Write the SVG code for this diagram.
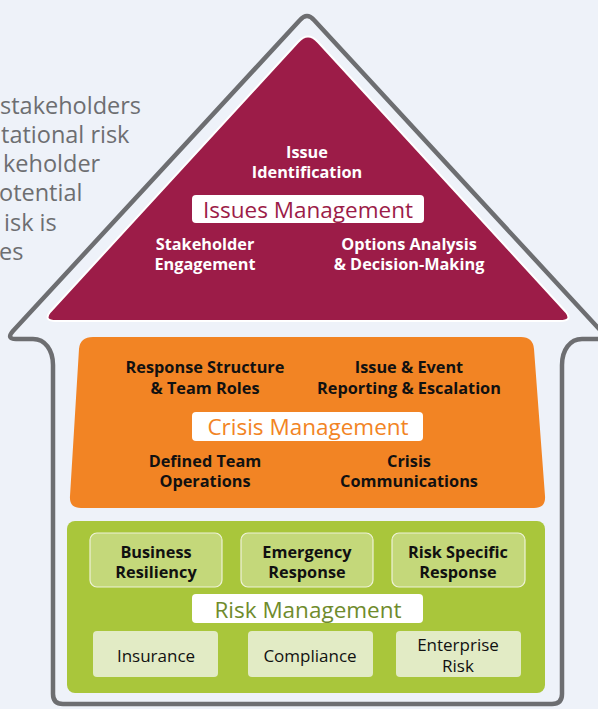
<svg xmlns="http://www.w3.org/2000/svg" width="598" height="709" viewBox="0 0 598 709">
<style>
.bg{fill:#eef2f9}
.side{font-family:"Open Sans",Lato,sans-serif;font-size:23.5px;fill:#6d6e71}
.wb{font-family:"Open Sans",Lato,sans-serif;font-size:16.3px;font-weight:bold;fill:#ffffff;text-anchor:middle}
.kb{font-family:"Open Sans",Lato,sans-serif;font-size:16.3px;font-weight:bold;fill:#111111;text-anchor:middle}
.kr{font-family:"Open Sans",Lato,sans-serif;font-size:17px;fill:#111111;text-anchor:middle}
.title{font-family:"Open Sans",Lato,sans-serif;font-size:22.5px;text-anchor:middle}
.lab{fill:#ffffff}
.boxA{fill:#c4d87a;stroke:#eef2d8;stroke-width:1.2}
.boxB{fill:#e2ebc5}
</style>
<rect class="bg" x="0" y="0" width="598" height="709"/>
<g id="side-text">
<text class="side" x="0" y="114">stakeholders</text>
<text class="side" x="1" y="143">tational risk</text>
<text class="side" x="3" y="172">keholder</text>
<text class="side" x="-1" y="201">otential</text>
<text class="side" x="4" y="231">isk is</text>
<text class="side" x="-1" y="260">es</text>
</g>
<g id="house-outline">
<path d="M53 694 L53 365 C53 350 45 339 33 339 L16 339 Q6 339 13 331 L300 20 Q307 12 314 20 L601 331 Q608 339 598 339 L582 339 C570 339 562 350 562 365 L562 694 Q562 704 552 704 L63 704 Q53 704 53 694 Z" fill="none" stroke="#6d6e71" stroke-width="4.5" stroke-linejoin="round"/>
</g>
<g id="issues-management">
<path d="M56 321 L560 321 Q573 321 566 312 L318 42 Q308 31 298 42 L50 312 Q43 321 56 321 Z" fill="#9c1c48" stroke="#ffffff" stroke-width="2"/>
<text class="wb" x="307" y="158">Issue</text>
<text class="wb" x="307" y="178">Identification</text>
<rect class="lab" x="192" y="195" width="232" height="28" rx="4"/>
<text class="title" x="308" y="218" fill="#9c1c48">Issues Management</text>
<text class="wb" x="205" y="250">Stakeholder</text>
<text class="wb" x="205" y="270">Engagement</text>
<text class="wb" x="409" y="250">Options Analysis</text>
<text class="wb" x="409" y="270">&amp; Decision-Making</text>
</g>
<g id="crisis-management">
<path d="M93 337 L521 337 Q533 337 534 349 L545 496 Q546 508 534 508 L81 508 Q69 508 70 496 L79 349 Q80 337 93 337 Z" fill="#f28424"/>
<text class="kb" x="205" y="373">Response Structure</text>
<text class="kb" x="205" y="394">&amp; Team Roles</text>
<text class="kb" x="409" y="373">Issue &amp; Event</text>
<text class="kb" x="409" y="394">Reporting &amp; Escalation</text>
<rect class="lab" x="192" y="412" width="231" height="29" rx="4"/>
<text class="title" x="308" y="435" fill="#f28424">Crisis Management</text>
<text class="kb" x="205" y="467">Defined Team</text>
<text class="kb" x="205" y="487">Operations</text>
<text class="kb" x="409" y="467">Crisis</text>
<text class="kb" x="409" y="487">Communications</text>
</g>
<g id="risk-management">
<rect x="67" y="521" width="478" height="172" rx="8" fill="#a9c63b"/>
<g id="business-resiliency">
<rect class="boxA" x="90" y="533" width="132" height="54" rx="7"/>
<text class="kb" x="156" y="558">Business</text>
<text class="kb" x="156" y="578">Resiliency</text>
</g>
<g id="emergency-response">
<rect class="boxA" x="241" y="533" width="132" height="54" rx="7"/>
<text class="kb" x="307" y="558">Emergency</text>
<text class="kb" x="307" y="578">Response</text>
</g>
<g id="risk-specific-response">
<rect class="boxA" x="392" y="533" width="133" height="54" rx="7"/>
<text class="kb" x="458" y="558">Risk Specific</text>
<text class="kb" x="458" y="578">Response</text>
</g>
<rect class="lab" x="192" y="594" width="231" height="29" rx="4"/>
<text class="title" x="308" y="618" fill="#6f8b2c">Risk Management</text>
<g id="insurance">
<rect class="boxB" x="93" y="631" width="125" height="46" rx="4"/>
<text class="kr" x="156" y="662">Insurance</text>
</g>
<g id="compliance">
<rect class="boxB" x="248" y="631" width="125" height="46" rx="4"/>
<text class="kr" x="310" y="662">Compliance</text>
</g>
<g id="enterprise-risk">
<rect class="boxB" x="396" y="631" width="125" height="46" rx="4"/>
<text class="kr" x="458" y="651">Enterprise</text>
<text class="kr" x="458" y="672">Risk</text>
</g>
</g>
</svg>
